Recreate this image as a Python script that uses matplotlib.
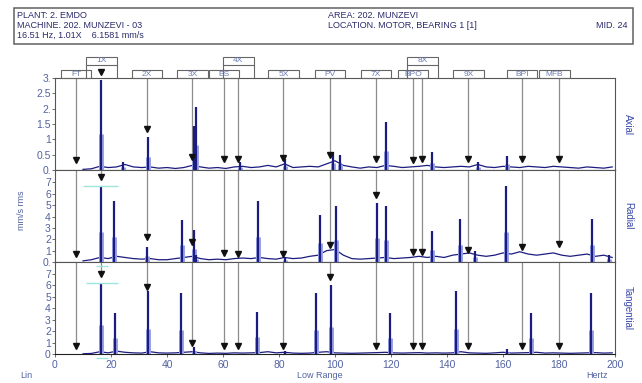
import numpy as np
import matplotlib.pyplot as plt
from matplotlib.patches import Rectangle
from matplotlib import transforms

plt.rcParams['font.family'] = ['Liberation Sans', 'DejaVu Sans']

# header texts
plant = "PLANT: 2. EMDO"
machine = "MACHINE. 202. MUNZEVI - 03"
cursor = "16.51 Hz, 1.01X    6.1581 mm/s"
area = "AREA: 202. MUNZEVI"
location = "LOCATION. MOTOR, BEARING 1 [1]"
mid = "MID. 24"

# fault frequency markers (Hz)
mark_names = ['FT', '1X', '2X', '3X', 'BS', '4X', '5X', 'PV', '7X', 'BPO', '8X', '9X', 'BPI', 'MFB']
mark_freqs = [7.5, 16.6, 32.8, 49.1, 60.4, 65.5, 81.6, 98.2, 114.6, 127.9, 131.2, 147.6, 166.7, 179.9]
upper_row = ['1X', '4X', '8X']

# arrowhead heights per direction
head_axial = [0.33, 3.2, 1.33, 0.41, 0.35, 0.35, 0.38, 0.49, 0.36, 0.33, 0.35, 0.35, 0.35, 0.35]
head_radial = [0.7, 7.5, 2.2, 1.8, 0.77, 0.7, 0.7, 1.5, 5.9, 0.9, 0.9, 1.06, 1.3, 1.6]
head_tang = [0.7, 7.0, 5.85, 1.0, 0.7, 0.7, 0.7, 6.7, 0.7, 0.7, 0.7, 0.7, 0.7, 0.7]

# noise floor of the spectra
base_f = [10, 13, 16, 19, 22, 25, 28, 31, 34, 37, 40, 43, 46, 49, 52, 55, 58, 61, 64, 67,
          70, 73, 76, 79, 82, 85, 88, 91, 94, 97, 100, 103, 106, 109, 112, 115, 118, 121, 124, 127,
          130, 133, 136, 139, 142, 145, 148, 151, 154, 157, 160, 163, 166, 169, 172, 175, 178, 181, 184, 187,
          190, 193, 196, 199]
base_axial = [0.02, 0.04, 0.12, 0.08, 0.1, 0.18, 0.1, 0.08, 0.1, 0.06, 0.08, 0.05, 0.08, 0.15, 0.1, 0.06, 0.08, 0.05, 0.1, 0.12,
              0.08, 0.1, 0.15, 0.1, 0.2, 0.08, 0.1, 0.12, 0.1, 0.2, 0.3, 0.15, 0.1, 0.06, 0.1, 0.08, 0.15, 0.12, 0.08, 0.1,
              0.12, 0.15, 0.1, 0.08, 0.1, 0.12, 0.1, 0.18, 0.1, 0.08, 0.12, 0.1, 0.08, 0.12, 0.1, 0.08, 0.12, 0.1, 0.08, 0.06,
              0.1, 0.08, 0.06, 0.1]
base_radial = [0.1, 0.2, 0.4, 0.3, 0.5, 0.4, 0.3, 0.25, 0.3, 0.2, 0.2, 0.3, 0.4, 0.5, 0.3, 0.2, 0.25, 0.2, 0.3, 0.35,
               0.3, 0.4, 0.3, 0.25, 0.4, 0.3, 0.35, 0.5, 0.6, 1.0, 1.1, 0.6, 0.3, 0.25, 0.3, 0.35, 0.4, 0.3, 0.35, 0.4,
               0.5, 0.4, 0.5, 0.4, 0.6, 0.7, 0.8, 0.6, 0.5, 0.6, 0.8, 0.7, 0.9, 0.7, 0.6, 0.7, 0.8, 0.6, 0.5, 0.6,
               0.7, 0.5, 0.6, 0.4]
base_tang = [0.02, 0.05, 0.2, 0.1, 0.25, 0.15, 0.1, 0.08, 0.2, 0.1, 0.08, 0.1, 0.15, 0.2, 0.1, 0.05, 0.08, 0.06, 0.1, 0.08,
             0.1, 0.12, 0.2, 0.1, 0.15, 0.08, 0.06, 0.08, 0.15, 0.2, 0.1, 0.08, 0.06, 0.08, 0.1, 0.12, 0.15, 0.1, 0.08, 0.1,
             0.12, 0.08, 0.1, 0.08, 0.1, 0.2, 0.1, 0.08, 0.06, 0.1, 0.15, 0.08, 0.1, 0.12, 0.15, 0.08, 0.1, 0.08, 0.06, 0.08,
             0.1, 0.12, 0.08, 0.1]

# spectral peaks (Hz, mm/s)
peak_f_axial = [16.6, 24.4, 33.1, 49.5, 50.3, 66.0, 82.0, 99.4, 101.8, 118.1, 134.5, 151.0, 161.3]
peak_a_axial = [2.95, 0.25, 1.06, 1.45, 2.05, 0.25, 0.35, 0.6, 0.5, 1.57, 0.6, 0.25, 0.47]
peak_f_radial = [16.6, 21.2, 33.0, 45.4, 49.6, 50.5, 72.4, 82.0, 94.5, 100.4, 115.1, 118.1, 134.5, 144.6, 150.0, 161.0, 191.7, 198.0]
peak_a_radial = [6.7, 5.4, 1.3, 3.7, 2.8, 0.6, 5.4, 0.4, 4.1, 4.9, 5.2, 4.9, 2.7, 3.8, 1.0, 6.7, 3.8, 0.6]
peak_f_tang = [16.6, 21.3, 33.3, 45.1, 49.8, 72.0, 82.0, 93.2, 98.4, 119.6, 143.2, 161.3, 170.0, 191.3]
peak_a_tang = [6.25, 3.6, 5.55, 5.3, 0.6, 3.7, 0.3, 5.3, 6.0, 3.6, 5.5, 0.4, 3.6, 5.3]

W, H = 642, 383
fig = plt.figure(figsize=(6.42, 3.83), dpi=100)


def fx(px):
    return px / W


def fy(py):
    return 1 - py / H


tick_col = '#5262a2'
navy = '#1c1c80'
halo = '#9aa4e4'

ax_a = fig.add_axes([fx(55), fy(170), fx(615) - fx(55), 92 / H])
ax_r = fig.add_axes([fx(55), fy(262), fx(615) - fx(55), 92 / H])
ax_t = fig.add_axes([fx(55), fy(354), fx(615) - fx(55), 92 / H])

panels = [
    (ax_a, 3.0, base_axial, peak_f_axial, peak_a_axial, head_axial,
     [0, 0.5, 1, 1.5, 2, 2.5, 3], ['0.', '0.5', '1', '1.5', '2.', '2.5', '3.']),
    (ax_r, 8.1, base_radial, peak_f_radial, peak_a_radial, head_radial,
     [0, 1, 2, 3, 4, 5, 6, 7], ['0.', '1', '2', '3', '4', '5', '6', '7']),
    (ax_t, 8.05, base_tang, peak_f_tang, peak_a_tang, head_tang,
     [0, 1, 2, 3, 4, 5, 6, 7], ['0', '1', '2', '3', '4', '5', '6', '7']),
]

for ax, ytop, base, pf, pa, heads, yt, ytl in panels:
    ax.set_xlim(0, 200)
    ax.set_ylim(0, ytop)
    for s in ax.spines.values():
        s.set_color('#555555')
        s.set_linewidth(0.8)
    ax.spines['bottom'].set_color('#222222')
    ax.set_yticks(yt)
    ax.set_yticklabels(ytl)
    ax.tick_params(axis='y', length=2, width=0.6, pad=1, labelsize=7.5, labelcolor=tick_col, color='#555555')
    # fault frequency arrows
    for f, h in zip(mark_freqs, heads):
        if h < ytop:
            ax.plot([f, f], [ytop, h], color='#8c8c8c', lw=0.9, zorder=2)
        ax.plot(f, h, marker='v', color='#111111', ms=5, clip_on=False, zorder=5)
    # spectrum
    ax.plot(base_f, base, color=navy, lw=0.9, zorder=3)
    ax.vlines(pf, 0, np.array(pa) * 0.4, color=halo, lw=3.6, zorder=3)
    ax.vlines(pf, 0, pa, color=navy, lw=1.6, zorder=4)

for ax in (ax_a, ax_r):
    ax.set_xticks([])
ax_t.set_xticks(range(0, 201, 20))
ax_t.tick_params(axis='x', length=2, width=0.6, pad=2, labelsize=7.5, labelcolor=tick_col, color='#555555')

# cursor lines
cyan = '#9ee6dc'
ax_r.hlines(6.7, 10, 22.5, color=cyan, lw=1, zorder=6)
ax_t.hlines(6.25, 11, 22.5, color=cyan, lw=1, zorder=6)
ax_t.hlines(7.7, 14.5, 19, color=cyan, lw=1, zorder=6)
ax_t.hlines(-0.35, 14.5, 19, color=cyan, lw=1, zorder=6, clip_on=False)

# marker label boxes on top
tr = transforms.blended_transform_factory(ax_a.transData, fig.transFigure)
box_shift = {'MFB': -1.6}
bw = 10.9
for name, f in zip(mark_names, mark_freqs):
    c = f + box_shift.get(name, 0)
    if name in upper_row:
        y0, y1 = 65, 57
        for xe in (c - bw / 2, c + bw / 2):
            fig.add_artist(plt.Line2D([xe, xe], [fy(78), fy(65)], transform=tr, color='#666666', lw=0.8))
    else:
        y0, y1 = 78, 70
    fig.add_artist(Rectangle((c - bw / 2, fy(y0)), bw, (y0 - y1) / H, transform=tr,
                             fill=False, edgecolor='#666666', lw=0.8))
    fig.text(c, fy((y0 + y1) / 2), name, transform=tr, ha='center', va='center',
             fontsize=6, color='#6a7ab0')

# header box
fig.add_artist(Rectangle((fx(14), fy(44.3)), fx(632.7) - fx(14), 36 / H, transform=fig.transFigure,
                         fill=False, edgecolor='#606060', lw=1.1))
hcol = '#2a2a6a'
fig.text(fx(17), fy(15), plant, fontsize=6.5, color=hcol, va='center')
fig.text(fx(17), fy(25), machine, fontsize=6.5, color=hcol, va='center')
fig.text(fx(17), fy(35.5), cursor, fontsize=6.5, color=hcol, va='center')
fig.text(fx(328), fy(15), area, fontsize=6.5, color=hcol, va='center')
fig.text(fx(328), fy(25), location, fontsize=6.5, color=hcol, va='center')
fig.text(fx(627), fy(25), mid, fontsize=6.5, color=hcol, va='center', ha='right')

# axis texts
fig.text(fx(22), fy(210), 'mm/s rms', rotation=90, fontsize=6.5, color=tick_col, ha='center', va='center')
fig.text(fx(628), fy(124), 'Axial', rotation=270, fontsize=7, color='#3848a8', ha='center', va='center')
fig.text(fx(628), fy(216), 'Radial', rotation=270, fontsize=7, color='#3848a8', ha='center', va='center')
fig.text(fx(628), fy(308), 'Tangential', rotation=270, fontsize=7, color='#3848a8', ha='center', va='center')
fig.text(fx(20), fy(376), 'Lin', fontsize=6.5, color=tick_col, va='center')
fig.text(fx(320), fy(376), 'Low Range', fontsize=6.5, color=tick_col, va='center', ha='center')
fig.text(fx(586), fy(376), 'Hertz', fontsize=6.5, color=tick_col, va='center')

fig.savefig('out.png', dpi=100)
